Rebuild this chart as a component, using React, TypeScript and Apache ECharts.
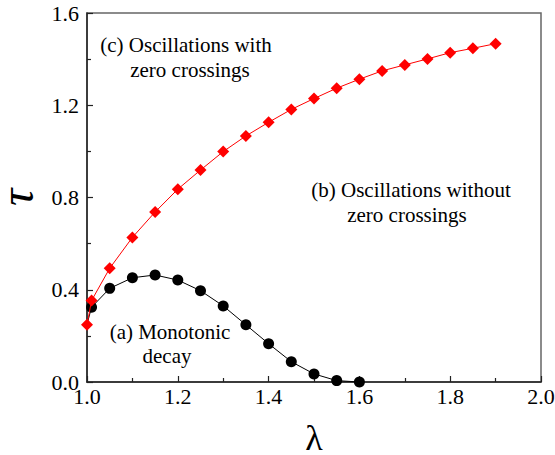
import React, { useEffect, useRef } from "react";
import * as echarts from "echarts";

const lambdaRed = [1.0, 1.01, 1.05, 1.1, 1.15, 1.2, 1.25, 1.3, 1.35, 1.4, 1.45, 1.5, 1.55, 1.6, 1.65, 1.7, 1.75, 1.8, 1.85, 1.9];
const tauRed = [0.248, 0.353, 0.493, 0.627, 0.737, 0.836, 0.919, 0.999, 1.067, 1.126, 1.182, 1.229, 1.274, 1.313, 1.349, 1.375, 1.401, 1.428, 1.447, 1.467];
const lambdaBlack = [1.0, 1.01, 1.05, 1.1, 1.15, 1.2, 1.25, 1.3, 1.35, 1.4, 1.45, 1.5, 1.55, 1.6];
const tauBlack = [0.25, 0.324, 0.406, 0.452, 0.464, 0.442, 0.396, 0.33, 0.248, 0.166, 0.088, 0.035, 0.006, 0.0];

const FONT = "Liberation Serif";

export default function App() {
  const ref = useRef<HTMLDivElement>(null);
  useEffect(() => {
    if (!ref.current) return;
    const chart = echarts.init(ref.current, null, { renderer: "svg" });
    const axisLine = { show: true, lineStyle: { color: "#222", width: 1.5 } };
    const axisTick = { show: true, inside: true, length: 6, lineStyle: { color: "#222", width: 1.2 } };
    const minorTick = { show: true, splitNumber: 2, length: 4, lineStyle: { color: "#222", width: 1.2 } };
    const txt = (x: number, y: number, text: string) => ({
      type: "text",
      x,
      y,
      style: { text, fontFamily: FONT, fontSize: 21, fill: "#000", align: "center", verticalAlign: "middle" },
    });
    chart.setOption({
      animation: false,
      grid: { left: 87, right: 14, top: 13, bottom: 73, show: true, borderColor: "#666", borderWidth: 1.5, outerBoundsMode: "none", containLabel: false },
      xAxis: {
        type: "value",
        min: 1.0,
        max: 2.0,
        interval: 0.2,
        axisLine,
        axisTick,
        minorTick,
        splitLine: { show: false },
        axisLabel: { color: "#000", fontFamily: FONT, fontSize: 22, margin: 3, formatter: (v: number) => v.toFixed(1) },
        name: "λ",
        nameLocation: "middle",
        nameGap: 41,
        nameTextStyle: { fontFamily: FONT, fontSize: 36, lineHeight: 30, color: "#000" },
      },
      yAxis: {
        type: "value",
        min: 0,
        max: 1.6,
        interval: 0.4,
        axisLine,
        axisTick,
        minorTick,
        splitLine: { show: false },
        axisLabel: { color: "#000", fontFamily: FONT, fontSize: 22, margin: 8, formatter: (v: number) => v.toFixed(1) },
        name: "τ",
        nameLocation: "middle",
        nameGap: 56,
        nameTextStyle: { fontFamily: FONT, fontSize: 48, lineHeight: 30, fontStyle: "italic", color: "#000" },
      },
      series: [
        {
          type: "line",
          data: lambdaBlack.map((x, i) => (i === 0 ? { value: [x, tauBlack[i]], symbol: "none" } : [x, tauBlack[i]])),
          symbol: "circle",
          symbolSize: 11,
          itemStyle: { color: "#000" },
          lineStyle: { color: "#000", width: 1 },
          z: 2,
        },
        {
          type: "line",
          data: lambdaRed.map((x, i) => [x, tauRed[i]]),
          symbol: "diamond",
          symbolSize: 12,
          itemStyle: { color: "#ff0000" },
          lineStyle: { color: "#ff0000", width: 1 },
          z: 3,
        },
      ],
      graphic: [
        txt(186, 45, "(c) Oscillations with"),
        txt(190, 70, "zero crossings"),
        txt(411, 190, "(b) Oscillations without"),
        txt(407, 215, "zero crossings"),
        txt(170, 332, "(a) Monotonic"),
        txt(167, 356, "decay"),
      ],
    });
    return () => chart.dispose();
  }, []);
  return <div ref={ref} style={{ width: 555, height: 455, position: "absolute", left: 0, top: 0 }} />;
}
